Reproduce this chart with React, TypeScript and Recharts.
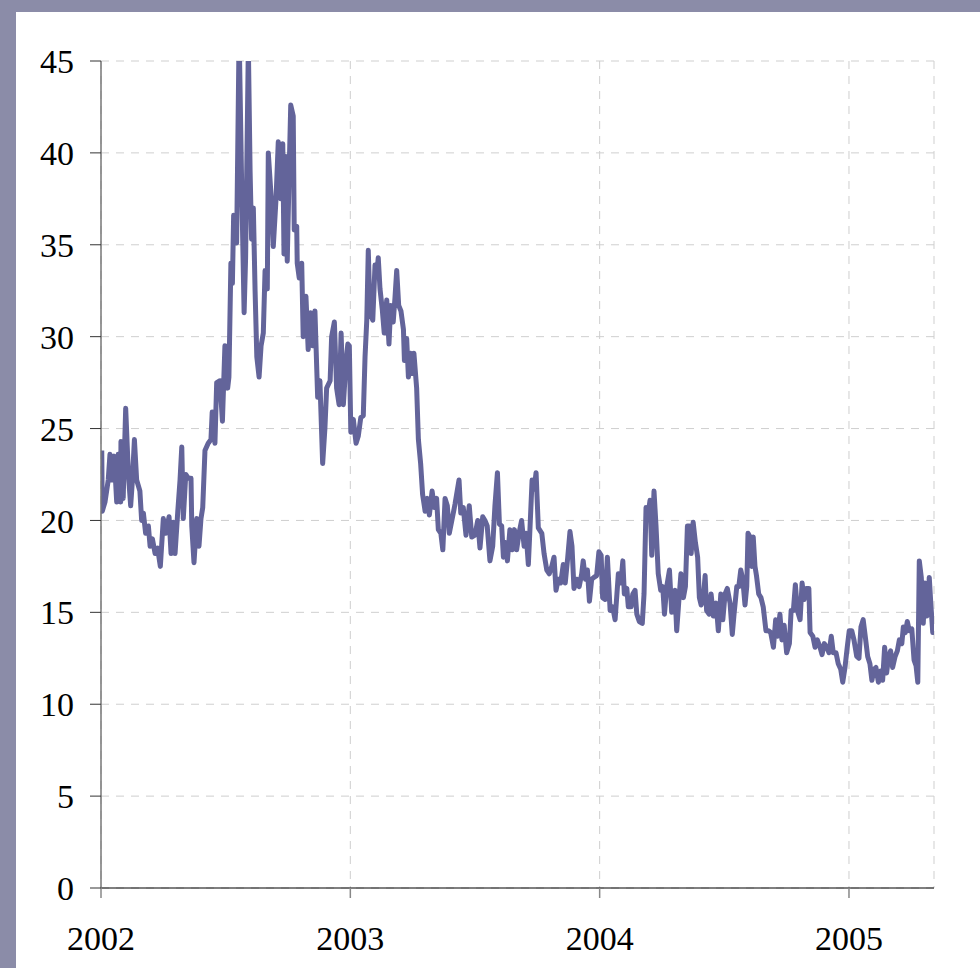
import { LineChart, Line, XAxis, YAxis, CartesianGrid } from 'recharts';

// decimal year of each observation
const years = [
  2002.003, 2002.005, 2002.016, 2002.029, 2002.036, 2002.045, 2002.053, 2002.063, 2002.069, 2002.079,
  2002.080, 2002.089, 2002.099, 2002.110, 2002.119, 2002.126, 2002.134, 2002.143, 2002.156, 2002.163,
  2002.170, 2002.179, 2002.190, 2002.197, 2002.206, 2002.217, 2002.227, 2002.238, 2002.250, 2002.260,
  2002.273, 2002.281, 2002.290, 2002.297, 2002.308, 2002.317, 2002.324, 2002.330, 2002.340, 2002.350,
  2002.361, 2002.364, 2002.373, 2002.384, 2002.393, 2002.401, 2002.408, 2002.417, 2002.430, 2002.441,
  2002.446, 2002.457, 2002.464, 2002.477, 2002.487, 2002.497, 2002.508, 2002.513, 2002.521, 2002.527,
  2002.532, 2002.544, 2002.554, 2002.564, 2002.574, 2002.580, 2002.591, 2002.598, 2002.604, 2002.611,
  2002.618, 2002.625, 2002.634, 2002.642, 2002.651, 2002.658, 2002.667, 2002.671, 2002.682, 2002.691,
  2002.702, 2002.711, 2002.721, 2002.729, 2002.734, 2002.742, 2002.747, 2002.755, 2002.761, 2002.771,
  2002.775, 2002.785, 2002.787, 2002.795, 2002.805, 2002.811, 2002.822, 2002.831, 2002.841, 2002.849,
  2002.858, 2002.869, 2002.878, 2002.889, 2002.898, 2002.905, 2002.919, 2002.925, 2002.936, 2002.945,
  2002.955, 2002.963, 2002.972, 2002.983, 2002.990, 2002.996, 2003.002, 2003.012, 2003.023, 2003.032,
  2003.042, 2003.052, 2003.059, 2003.066, 2003.072, 2003.079, 2003.090, 2003.099, 2003.106, 2003.112,
  2003.119, 2003.128, 2003.136, 2003.146, 2003.155, 2003.162, 2003.172, 2003.179, 2003.186, 2003.194,
  2003.203, 2003.213, 2003.217, 2003.226, 2003.233, 2003.242, 2003.250, 2003.255, 2003.266, 2003.273,
  2003.282, 2003.290, 2003.300, 2003.309, 2003.317, 2003.328, 2003.337, 2003.346, 2003.353, 2003.363,
  2003.371, 2003.380, 2003.389, 2003.397, 2003.413, 2003.420, 2003.436, 2003.443, 2003.453, 2003.464,
  2003.477, 2003.487, 2003.500, 2003.511, 2003.520, 2003.531, 2003.540, 2003.549, 2003.560, 2003.571,
  2003.580, 2003.590, 2003.598, 2003.607, 2003.614, 2003.622, 2003.630, 2003.640, 2003.650, 2003.658,
  2003.667, 2003.678, 2003.687, 2003.697, 2003.705, 2003.714, 2003.721, 2003.729, 2003.737, 2003.745,
  2003.754, 2003.768, 2003.777, 2003.788, 2003.798, 2003.808, 2003.817, 2003.825, 2003.834, 2003.844,
  2003.854, 2003.862, 2003.872, 2003.881, 2003.889, 2003.897, 2003.908, 2003.918, 2003.928, 2003.934,
  2003.943, 2003.951, 2003.959, 2003.968, 2003.977, 2003.988, 2003.997, 2004.006, 2004.012, 2004.022,
  2004.031, 2004.042, 2004.052, 2004.062, 2004.075, 2004.085, 2004.093, 2004.099, 2004.109, 2004.115,
  2004.126, 2004.133, 2004.142, 2004.149, 2004.159, 2004.171, 2004.178, 2004.186, 2004.195, 2004.202,
  2004.209, 2004.218, 2004.226, 2004.235, 2004.245, 2004.253, 2004.260, 2004.269, 2004.280, 2004.289,
  2004.296, 2004.302, 2004.309, 2004.318, 2004.326, 2004.336, 2004.344, 2004.352, 2004.360, 2004.367,
  2004.375, 2004.384, 2004.393, 2004.400, 2004.407, 2004.416, 2004.423, 2004.429, 2004.439, 2004.447,
  2004.456, 2004.467, 2004.476, 2004.486, 2004.494, 2004.503, 2004.512, 2004.523, 2004.532, 2004.539,
  2004.550, 2004.558, 2004.566, 2004.574, 2004.583, 2004.590, 2004.595, 2004.603, 2004.610, 2004.616,
  2004.623, 2004.629, 2004.638, 2004.647, 2004.656, 2004.667, 2004.677, 2004.686, 2004.697, 2004.706,
  2004.714, 2004.723, 2004.731, 2004.740, 2004.750, 2004.761, 2004.768, 2004.777, 2004.785, 2004.793,
  2004.804, 2004.812, 2004.820, 2004.828, 2004.839, 2004.844, 2004.855, 2004.864, 2004.873, 2004.884,
  2004.892, 2004.901, 2004.911, 2004.920, 2004.929, 2004.937, 2004.948, 2004.957, 2004.967, 2004.975,
  2004.984, 2004.993, 2005.001, 2005.011, 2005.020, 2005.031, 2005.040, 2005.048, 2005.057, 2005.067,
  2005.075, 2005.084, 2005.092, 2005.100, 2005.108, 2005.118, 2005.127, 2005.135, 2005.143, 2005.151,
  2005.159, 2005.167, 2005.175, 2005.185, 2005.194, 2005.202, 2005.212, 2005.218, 2005.226, 2005.234,
  2005.242, 2005.252, 2005.261, 2005.269, 2005.276, 2005.282, 2005.290, 2005.298, 2005.305, 2005.312,
  2005.318, 2005.322, 2005.329, 2005.336, 2005.341,
];

// volatility index level
const vix = [
  23.8, 20.5, 21.0, 22.2, 23.6, 22.2, 23.5, 21.0, 23.6, 21.0,
  24.3, 21.2, 26.1, 22.5, 20.8, 22.2, 24.4, 22.2, 21.6, 20.0,
  20.4, 19.3, 19.7, 18.6, 19.0, 18.2, 18.5, 17.5, 20.1, 19.3,
  20.2, 18.2, 19.9, 18.2, 20.5, 22.2, 24.0, 20.1, 22.5, 22.3,
  22.3, 19.7, 17.7, 20.1, 18.6, 20.1, 20.7, 23.8, 24.2, 24.4,
  25.9, 24.2, 27.5, 27.6, 25.4, 29.5, 27.2, 27.8, 34.0, 32.9,
  36.6, 35.1, 46.5, 38.4, 31.3, 34.3, 45.8, 39.0, 35.3, 37.0,
  32.5, 28.9, 27.8, 29.5, 30.2, 33.6, 32.6, 40.0, 37.7, 34.9,
  37.5, 40.6, 37.5, 40.5, 34.5, 39.8, 34.1, 39.2, 42.6, 42.0,
  35.8, 36.0, 34.0, 33.2, 34.0, 30.0, 32.2, 29.3, 31.3, 29.5,
  31.4, 26.7, 27.6, 23.1, 25.0, 27.2, 27.6, 30.0, 30.8, 27.2,
  26.3, 30.2, 26.3, 28.7, 29.6, 29.5, 24.8, 25.5, 24.2, 24.6,
  25.6, 25.7, 28.9, 30.9, 34.7, 31.3, 30.9, 33.9, 33.4, 34.3,
  32.6, 31.5, 30.2, 32.0, 29.6, 31.7, 30.8, 32.1, 33.6, 31.7,
  31.4, 30.4, 28.7, 29.9, 27.8, 29.1, 28.0, 29.1, 27.2, 24.4,
  23.1, 21.4, 20.5, 21.2, 20.3, 21.6, 20.7, 21.2, 19.5, 19.3,
  18.4, 21.2, 20.8, 19.3, 20.4, 20.9, 22.2, 20.4, 20.7, 19.2,
  20.8, 19.1, 19.2, 20.0, 18.5, 20.2, 20.0, 19.7, 17.8, 18.6,
  20.8, 22.6, 19.8, 19.7, 18.0, 18.8, 17.8, 19.5, 18.4, 19.5,
  18.4, 19.4, 20.0, 18.6, 19.3, 17.6, 19.7, 22.2, 21.7, 22.6,
  19.6, 19.3, 18.2, 17.3, 17.1, 17.5, 18.0, 16.2, 16.8, 16.6,
  17.6, 16.6, 18.0, 19.4, 18.6, 16.3, 16.8, 16.4, 17.1, 17.8,
  16.8, 17.3, 15.6, 16.8, 16.9, 17.0, 18.3, 18.1, 15.8, 15.7,
  18.0, 15.1, 15.3, 14.6, 17.1, 16.6, 17.8, 16.0, 16.3, 15.3,
  15.3, 16.0, 16.2, 14.9, 14.5, 14.4, 16.0, 20.7, 20.4, 21.1,
  18.1, 21.6, 19.7, 17.1, 16.2, 16.4, 14.9, 16.4, 17.3, 15.0,
  16.0, 16.2, 14.0, 15.7, 17.1, 15.8, 16.4, 19.7, 19.7, 18.2,
  19.9, 18.8, 18.0, 15.8, 15.4, 15.8, 17.0, 15.1, 14.9, 16.0,
  14.8, 15.5, 14.0, 16.0, 14.6, 16.0, 16.3, 15.5, 13.8, 14.9,
  16.4, 16.4, 17.3, 16.8, 15.4, 16.4, 19.3, 19.1, 17.5, 19.1,
  17.5, 17.0, 16.0, 15.8, 15.3, 14.0, 14.0, 13.9, 13.1, 14.6,
  13.7, 14.9, 13.5, 14.3, 12.8, 13.3, 15.1, 15.1, 16.5, 15.1,
  14.6, 16.6, 15.7, 16.3, 16.3, 13.9, 13.7, 13.1, 13.5, 13.1,
  12.7, 13.3, 13.1, 12.8, 13.7, 12.8, 12.8, 12.2, 11.9, 11.2,
  12.0, 13.1, 14.0, 14.0, 13.5, 12.6, 12.5, 14.2, 14.6, 13.5,
  12.6, 12.2, 11.3, 11.9, 12.0, 11.2, 11.8, 11.3, 13.1, 11.7,
  12.6, 12.9, 12.0, 12.6, 12.9, 13.5, 13.3, 14.2, 13.9, 14.5,
  14.0, 14.1, 12.4, 12.1, 11.2, 17.8, 16.9, 14.4, 16.6, 14.8,
  15.7, 16.9, 15.3, 13.9, 14.2,
];

const yearTicks = [2002, 2003, 2004, 2005];
const levelTicks = [0, 5, 10, 15, 20, 25, 30, 35, 40, 45];

const chartData = years.map((t, i) => ({ t, vix: vix[i] }));

const serif = '"Liberation Serif", "Times New Roman", serif';

export default function App() {
  return (
    <div style={{ position: 'fixed', left: 0, top: 0, width: 980, height: 968, background: '#8b8ca8' }}>
      <div style={{ position: 'absolute', left: 16, top: 12, width: 964, height: 956, background: '#fff' }}>
        <LineChart
          width={964}
          height={956}
          data={chartData}
          margin={{ top: 49, right: 46, bottom: 30, left: 25 }}
        >
          <CartesianGrid stroke="#cfcfcf" strokeDasharray="8 7" />
          <XAxis
            dataKey="t"
            type="number"
            domain={[2002, 2005.341]}
            ticks={yearTicks}
            allowDataOverflow
            height={50}
            tickSize={10}
            tickMargin={28}
            axisLine={{ stroke: '#000' }}
            tickLine={{ stroke: '#888', strokeWidth: 1.5 }}
            tick={{ fill: '#000', fontSize: 34, fontFamily: serif }}
          />
          <YAxis
            type="number"
            domain={[0, 45]}
            ticks={levelTicks}
            allowDataOverflow
            width={60}
            tickSize={11}
            tickMargin={16}
            axisLine={{ stroke: '#777', strokeWidth: 1.5 }}
            tickLine={{ stroke: '#333' }}
            tick={{ fill: '#000', fontSize: 34, fontFamily: serif }}
          />
          <Line
            type="linear"
            dataKey="vix"
            stroke="#63649a"
            strokeWidth={5}
            strokeLinejoin="round"
            dot={false}
            isAnimationActive={false}
          />
        </LineChart>
      </div>
    </div>
  );
}
